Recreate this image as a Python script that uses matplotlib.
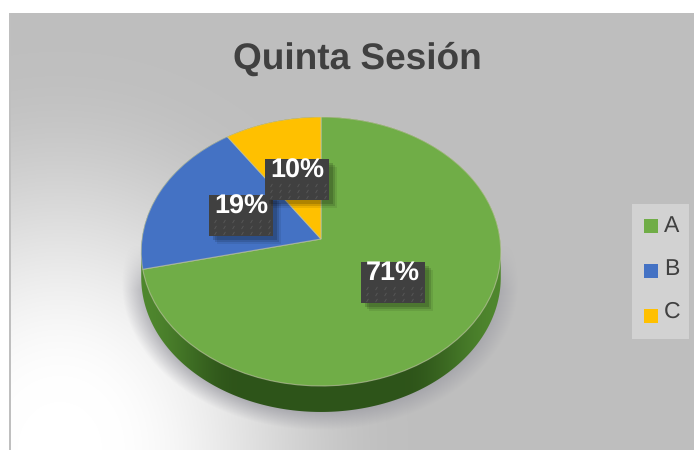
import matplotlib

matplotlib.use("Agg")
import matplotlib.pyplot as plt
import numpy as np
from matplotlib.patches import Polygon, Rectangle
from matplotlib.transforms import Transform

title = "Quinta Sesión"
categories = ["A", "B", "C"]
values = [15, 4, 2]
colors = ["#70ad47", "#4472c4", "#ffc000"]

plt.rcParams["font.family"] = ["Liberation Sans", "DejaVu Sans"]
plt.rcParams["text.hinting"] = "no_hinting"
plt.rcParams["text.hinting_factor"] = 1

# disc geometry in image pixels
CX, CY = 321, 239
RX, RY = 179, 133.3
TILT = 0.093
DEPTH = 26


def tilt_xy(u, v):
    """Project unit-disc points to the tilted disc on screen."""
    w = 1 + TILT * v
    return CX + RX * u / w, CY - RY * v / w


class TiltTransform(Transform):
    input_dims = output_dims = 2

    def transform_non_affine(self, values):
        x, y = tilt_xy(values[:, 0], values[:, 1])
        return np.column_stack([x, y])


def mix(a, b, t):
    t = np.clip(t, 0, 1)
    t = (t * t * (3 - 2 * t))[..., None]
    return np.array(a) * (1 - t) + np.array(b) * t


fig = plt.figure(figsize=(6.94, 4.5), dpi=100)
ax = fig.add_axes([0, 0, 1, 1])

# background panel with the white glow from the lower left
xx, yy = np.meshgrid(np.arange(9, 694) + 0.5, np.arange(13, 450) + 0.5)
glow = np.hypot((xx - 60) / 350, (yy - 450) / 400)
panel = mix((1, 1, 1), (0.749, 0.749, 0.749), (glow - 0.12) / 0.88)
panel[:, :2] = 0.75
ax.imshow(panel, extent=(9, 694, 450, 13), aspect="auto", zorder=0)

# soft shadow under the pie
xx, yy = np.meshgrid(np.arange(694) + 0.5, np.arange(450) + 0.5)
dist = np.hypot((xx - 320) / 198, (yy - 284) / 146)
shadow_alpha = np.clip((1.0 - dist) / 0.16, 0, 1) * np.clip((yy - 245) / 45, 0, 1)
shadow = np.zeros((450, 694, 4))
shadow[..., :3] = (0.62, 0.62, 0.65)
shadow[..., 3] = shadow_alpha
ax.imshow(shadow, extent=(0, 694, 450, 0), aspect="auto", zorder=1)

# pie side: top half of the disc joined to the shifted lower half
t = np.linspace(0, 2 * np.pi, 361)
sx, sy = tilt_xy(np.cos(t), np.sin(t))
upper = np.sin(t) >= -TILT
outline = np.column_stack([sx, np.where(upper, sy, sy + DEPTH)])
side_patch = Polygon(outline, closed=True, transform=ax.transData, fc="none", ec="none")
ax.add_patch(side_patch)
side = mix((0.18, 0.33, 0.10), (0.31, 0.53, 0.18), (np.abs(xx - CX) / 180 - 0.45) / 0.55)
side_img = ax.imshow(side, extent=(0, 694, 450, 0), aspect="auto", zorder=2)
side_img.set_clip_path(side_patch)

# pie top
wedges, _ = ax.pie(
    values,
    colors=colors,
    startangle=90,
    counterclock=False,
    wedgeprops={"edgecolor": (0.78, 0.78, 0.68, 0.6), "linewidth": 0.8},
)
for wedge in wedges:
    wedge.set_transform(TiltTransform() + ax.transData)
    wedge.set_zorder(3)

ax.set_aspect("auto")
ax.axis("off")

ax.text(357, 59, title, fontsize=26.5, fontweight="bold", color="#404040",
        ha="center", va="center", zorder=6)

# data labels, drawn in this order so the 10% box sits over the 19% one
total = sum(values)
label_boxes = {"A": (361, 262), "B": (209, 195), "C": (265, 159)}
for i, (cat, val) in enumerate(zip(categories, values)):
    bx, by = label_boxes[cat]
    z = 4 + i * 0.1
    for off, alpha in ((8, 0.08), (6, 0.12), (4, 0.15)):
        ax.add_patch(Rectangle((bx + off, by + off), 64, 41, fc="black", ec="none",
                               alpha=alpha, zorder=z))
    ax.add_patch(Rectangle((bx, by), 64, 41, fc="#404040", ec="none", zorder=z))
    dots_x, dots_y = np.meshgrid(np.arange(bx + 6, bx + 62, 9), np.arange(by + 26, by + 40, 6))
    ax.scatter(dots_x.ravel(), dots_y.ravel(), s=7, marker=(2, 0, -30), linewidths=0.7,
               color="#565656", zorder=z)
    ax.text(bx + 32, by + 12, f"{val / total:.0%}", fontsize=19.5, fontweight="bold",
            color="white", ha="center", va="center", zorder=z)

# legend
ax.add_patch(Rectangle((632, 204), 57, 135, fc="#d2d2d2", ec="none", zorder=3))
for i, (cat, color) in enumerate(zip(categories, colors)):
    ax.add_patch(Rectangle((644, 219 + 45 * i), 14, 14, fc=color, ec="none", zorder=4))
    ax.text(664, 226 + 43 * i, cat, fontsize=16.5, color="#404040", ha="left", va="center",
            zorder=4)

ax.set_xlim(0, 694)
ax.set_ylim(450, 0)
fig.savefig("out.png", dpi=100, facecolor="white")
